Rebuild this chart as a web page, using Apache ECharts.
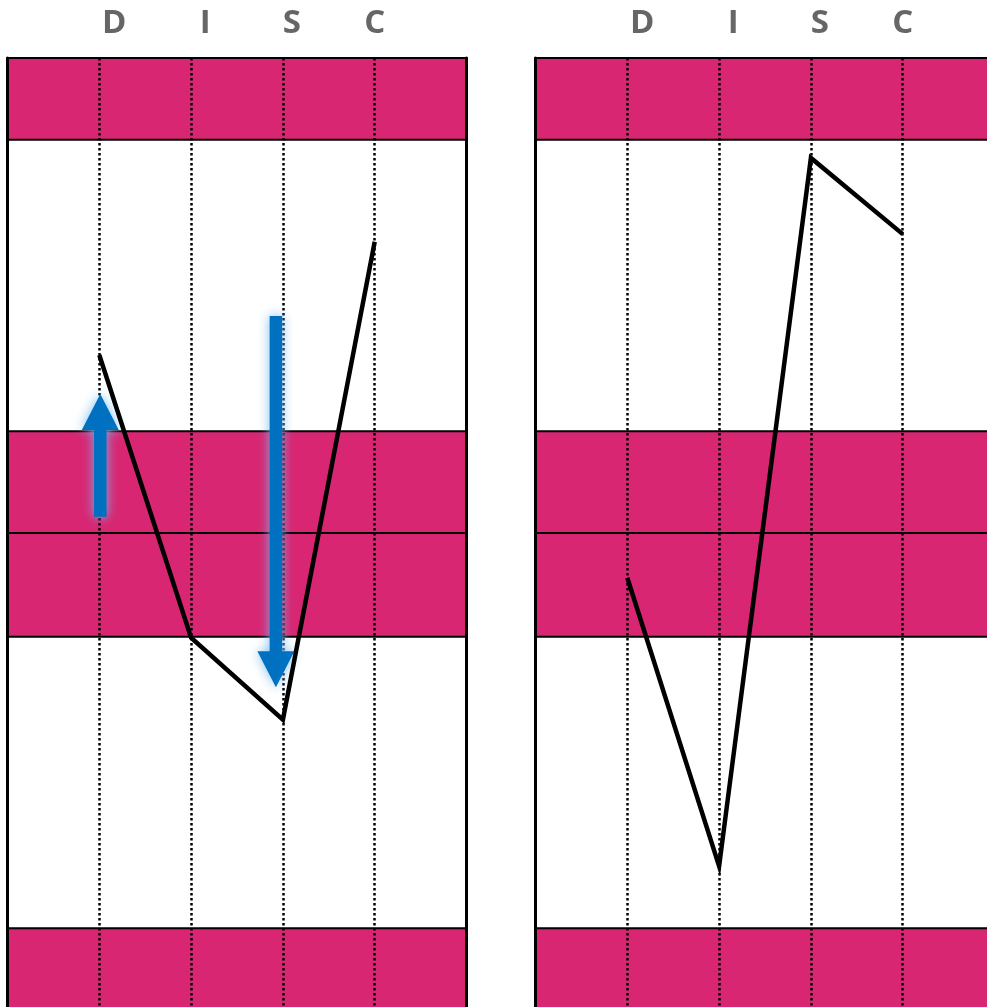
<!DOCTYPE html>
<html>
<head>
<meta charset="utf-8">
<script src="https://cdn.jsdelivr.net/npm/echarts@6/dist/echarts.min.js"></script>
<style>
  html, body { margin: 0; padding: 0; background: #fff; }
  #chart { width: 987px; height: 1007px; }
</style>
</head>
<body>
<div id="chart"></div>
<script>
// DISC profile: two panels sharing the same band layout
const categories = ['', 'D', 'I', 'S', 'C', ''];
const factors = ['D', 'I', 'S', 'C'];

// shaded bands on the 0–100 profile scale [from, to]
const bandFrom = [91.4, 50.1, 39.2, 0];
const bandTo   = [100, 60.8, 50.1, 8.6];

// profile values per factor (D, I, S, C)
const leftProfile  = [68.8, 39.1, 30.5, 80.7];
const rightProfile = [45.4, 15.1, 89.5, 81.5];

// movement arrows on the left panel: factor, start value, end value
const arrowFactor = ['D', 'S'];
const arrowStart  = [51.8, 72.9];
const arrowEnd    = [64.7, 33.9];

const PINK = '#D82672';
const BLUE = '#0070C0';
const FRAME_W = 3;

// heading letters sit a little right of their guide lines
const LABEL_PAD = { D: 30, I: 28, S: 18, C: 0 };

const chart = echarts.init(document.getElementById('chart'));

const panels = [
  { left: 7.5, width: 459 },
  { left: 535.5, width: 459 }
];

const grids = panels.map(p => ({
  left: p.left, width: p.width, top: 58, height: 952, show: false,
  outerBoundsMode: 'none', containLabel: false
}));

const axisCategories = categories.map(c => c && LABEL_PAD[c] ? {
  value: c, textStyle: { padding: [0, 0, 0, LABEL_PAD[c]] }
} : c);

const xAxes = panels.map((p, i) => ({
  type: 'category',
  gridIndex: i,
  data: axisCategories,
  boundaryGap: false,
  position: 'top',
  z: 3,
  axisLine: { show: true, lineStyle: { color: '#000', width: FRAME_W } },
  axisTick: { show: false },
  axisLabel: {
    show: true, margin: 18, fontSize: 33, fontWeight: 'bold', hideOverlap: false,
    fontFamily: '"Open Sans", sans-serif', color: '#666666'
  },
  splitLine: {
    show: true,
    interval: (idx) => idx > 0 && idx < categories.length - 1,
    lineStyle: { color: '#000', width: 2.5, type: [2.5, 2.5] }
  }
}));

const yAxes = [];
panels.forEach((p, i) => {
  ['left', 'right'].forEach(pos => {
    yAxes.push({
      type: 'value', gridIndex: i, position: pos, min: 0, max: 100, z: 3,
      axisLine: { show: true, onZero: false, lineStyle: { color: '#000', width: FRAME_W } },
      axisTick: { show: false }, axisLabel: { show: false }, splitLine: { show: false }
    });
  });
});

const bandData = bandFrom.map((f, i) => [0, f, bandTo[i]]);

function bandSeries(gi) {
  return {
    type: 'custom', xAxisIndex: gi, yAxisIndex: gi * 2, z: 1, silent: true,
    data: bandData,
    renderItem: (params, api) => {
      const cs = params.coordSys;
      const yTop = api.coord([0, api.value(2)])[1];
      const yBot = api.coord([0, api.value(1)])[1];
      return {
        type: 'rect',
        shape: { x: cs.x, y: yTop, width: cs.width, height: yBot - yTop },
        style: { fill: PINK, stroke: '#000', lineWidth: 2 }
      };
    }
  };
}

function profileSeries(gi, values) {
  return {
    type: 'line', xAxisIndex: gi, yAxisIndex: gi * 2, z: 5,
    data: factors.map((f, i) => [f, values[i]]),
    showSymbol: false, symbol: 'none', silent: true,
    lineStyle: { color: '#000', width: 4.5, join: 'miter' }
  };
}

// small horizontal nudges so arrows sit beside the profile line
const ARROW_SHIFT = [1, -7];
const SHAFT_W = 12.5, HEAD_W = 37, HEAD_L = 36;

const arrowData = arrowFactor.map((f, i) => [categories.indexOf(f), arrowStart[i], arrowEnd[i]]);

const arrowSeries = {
  type: 'custom', xAxisIndex: 0, yAxisIndex: 0, z: 4, silent: true,
  data: arrowData,
  renderItem: (params, api) => {
    const p0 = api.coord([api.value(0), api.value(1)]);
    const p1 = api.coord([api.value(0), api.value(2)]);
    const x = p0[0] + ARROW_SHIFT[params.dataIndex];
    const y0 = p0[1], y1 = p1[1];
    const dir = y1 < y0 ? -1 : 1;
    const yb = y1 - dir * HEAD_L;
    const sw = SHAFT_W / 2, hw = HEAD_W / 2;
    const pts = [
      [x - sw, y0], [x - sw, yb], [x - hw, yb], [x, y1],
      [x + hw, yb], [x + sw, yb], [x + sw, y0]
    ];
    return {
      type: 'polygon',
      shape: { points: pts },
      style: {
        fill: BLUE, shadowBlur: 12, shadowColor: 'rgba(120,185,240,0.95)'
      }
    };
  }
};

chart.setOption({
  animation: false,
  backgroundColor: '#fff',
  grid: grids,
  xAxis: xAxes,
  yAxis: yAxes,
  series: [
    bandSeries(0), bandSeries(1),
    profileSeries(0, leftProfile), profileSeries(1, rightProfile),
    arrowSeries
  ]
});
</script>
</body>
</html>
